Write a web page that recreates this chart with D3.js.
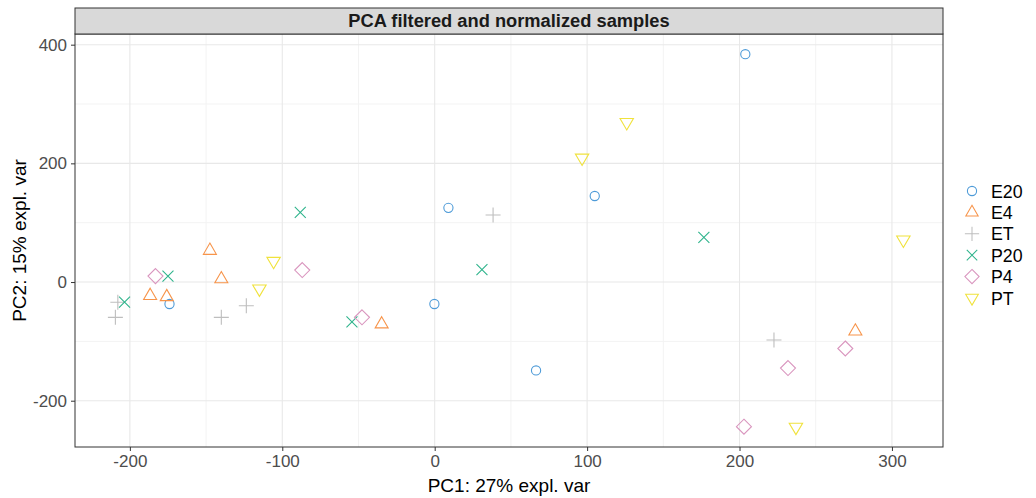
<!DOCTYPE html>
<html>
<head>
<meta charset="utf-8">
<script src="https://cdn.jsdelivr.net/npm/d3@7"></script>
<style>
  html, body { margin: 0; padding: 0; background: #ffffff; }
  svg { display: block; font-family: "Liberation Sans", Arial, sans-serif; }
</style>
</head>
<body>
<svg id="chart" width="1036" height="498"></svg>
<script>
// ---- data ----
const categories = ["E20", "E4", "ET", "P20", "P4", "PT"];
const pc1E20 = [203.8, 105, 9, -0.2, 66.5, -174];
const pc2E20 = [384, 145, 125, -37, -149, -37];
const pc1E4  = [-147.5, -140, -186.7, -175.8, -34.8, 276];
const pc2E4  = [53, 5, -23, -25, -71, -83];
const pc1ET  = [-207.9, -209.5, -140, -123.6, 38.3, 222.6];
const pc2ET  = [-34, -59.5, -59.5, -40, 113, -97.7];
const pc1P20 = [-203.5, -175, -88.2, -54.3, 31, 176.6];
const pc2P20 = [-34, 10, 117.4, -67, 21, 75.3];
const pc1P4  = [-183.2, -86.9, -47.7, 269.4, 231.8, 202.9];
const pc2P4  = [10, 20.2, -59.5, -112, -145, -243.8];
const pc1PT  = [-105.7, -115, 96.7, 126, 307.5, 237];
const pc2PT  = [35, -11.5, 209, 269, 71, -244.5];
const xTicks = [-200, -100, 0, 100, 200, 300];
const yTicks = [-200, 0, 200, 400];
const xMinor = [-150, -50, 50, 150, 250];
const yMinor = [-100, 100, 300];
const titleText = "PCA filtered and normalized samples";
const xTitle = "PC1: 27% expl. var";
const yTitle = "PC2: 15% expl. var";

const seriesX = [pc1E20, pc1E4, pc1ET, pc1P20, pc1P4, pc1PT];
const seriesY = [pc2E20, pc2E4, pc2ET, pc2P20, pc2P4, pc2PT];
const colors = ["#4E9BD8", "#F7944A", "#BEBEBE", "#2FB48C", "#D995BE", "#F0E23C"];

const points = [];
categories.forEach((c, i) => {
  seriesX[i].forEach((x, j) => points.push({ group: c, gi: i, x: x, y: seriesY[i][j] }));
});

// ---- layout ----
const svg = d3.select("#chart");
const L = 75, R = 943, T = 34, B = 447, stripTop = 8;

const x = d3.scaleLinear().domain([-236, 333.5]).range([L, R]);
const y = d3.scaleLinear().domain([-278, 418]).range([B, T]);

// panel background
svg.append("rect").attr("x", L).attr("y", T).attr("width", R - L).attr("height", B - T).attr("fill", "#fff");

// minor grid
const grid = svg.append("g");
grid.selectAll(".xm").data(xMinor).join("line")
  .attr("x1", d => x(d)).attr("x2", d => x(d)).attr("y1", T).attr("y2", B)
  .attr("stroke", "#F3F3F3").attr("stroke-width", 1);
grid.selectAll(".ym").data(yMinor).join("line")
  .attr("y1", d => y(d)).attr("y2", d => y(d)).attr("x1", L).attr("x2", R)
  .attr("stroke", "#F3F3F3").attr("stroke-width", 1);
// major grid
grid.selectAll(".xM").data(xTicks).join("line")
  .attr("x1", d => x(d)).attr("x2", d => x(d)).attr("y1", T).attr("y2", B)
  .attr("stroke", "#E8E8E8").attr("stroke-width", 1.1);
grid.selectAll(".yM").data(yTicks).join("line")
  .attr("y1", d => y(d)).attr("y2", d => y(d)).attr("x1", L).attr("x2", R)
  .attr("stroke", "#E8E8E8").attr("stroke-width", 1.1);

// shapes
function circlePath(r) {
  const p = d3.path();
  p.arc(0, 0, r, 0, 2 * Math.PI);
  p.closePath();
  return p.toString();
}
function shapePath(gi) {
  switch (gi) {
    case 0: return circlePath(4.6);
    case 1: return "M0,-7.5L6.5,3.75L-6.5,3.75Z";
    case 2: return "M-7.5,0L7.5,0M0,-7.5L0,7.5";
    case 3: return "M-5.5,-5.5L5.5,5.5M-5.5,5.5L5.5,-5.5";
    case 4: return "M0,-7.5L7.5,0L0,7.5L-7.5,0Z";
    case 5: return "M0,7.5L6.7,-3.9L-6.7,-3.9Z";
  }
}

// points
svg.append("g").selectAll("path").data(points).join("path")
  .attr("d", d => shapePath(d.gi))
  .attr("transform", d => `translate(${x(d.x)},${y(d.y)})`)
  .attr("fill", "none")
  .attr("stroke", d => colors[d.gi])
  .attr("stroke-width", 1.1);

// panel border
svg.append("rect").attr("x", L).attr("y", T).attr("width", R - L).attr("height", B - T)
  .attr("fill", "none").attr("stroke", "#333333").attr("stroke-width", 1);

// strip
svg.append("rect").attr("x", L).attr("y", stripTop).attr("width", R - L).attr("height", T - stripTop)
  .attr("fill", "#D9D9D9").attr("stroke", "#333333").attr("stroke-width", 1);
svg.append("text").attr("x", (L + R) / 2).attr("y", T - 7)
  .attr("text-anchor", "middle").attr("font-size", 18.3).attr("font-weight", "bold")
  .attr("fill", "#1A1A1A").text(titleText);

// axes
const xAxis = d3.axisBottom(x).tickValues(xTicks).tickSize(4).tickPadding(4).tickFormat(d3.format("d"));
const gx = svg.append("g").attr("transform", `translate(0,${B})`).call(xAxis);
gx.select(".domain").remove();
gx.selectAll(".tick line").attr("stroke", "#333333");
gx.selectAll(".tick text").attr("fill", "#4D4D4D").attr("font-size", 17)
  .attr("font-family", "Liberation Sans, Arial, sans-serif")
  .text(d => d < 0 ? "-" + Math.abs(d) : d);

const yAxis = d3.axisLeft(y).tickValues(yTicks).tickSize(4).tickPadding(4).tickFormat(d3.format("d"));
const gy = svg.append("g").attr("transform", `translate(${L},0)`).call(yAxis);
gy.select(".domain").remove();
gy.selectAll(".tick line").attr("stroke", "#333333");
gy.selectAll(".tick text").attr("fill", "#4D4D4D").attr("font-size", 17)
  .attr("font-family", "Liberation Sans, Arial, sans-serif")
  .text(d => d < 0 ? "-" + Math.abs(d) : d);

// axis titles
svg.append("text").attr("x", (L + R) / 2).attr("y", 492)
  .attr("text-anchor", "middle").attr("font-size", 19).attr("fill", "#000").text(xTitle);
svg.append("text").attr("transform", `translate(26,${(T + B) / 2}) rotate(-90)`)
  .attr("text-anchor", "middle").attr("font-size", 19).attr("fill", "#000").text(yTitle);

// legend
const legend = svg.append("g").attr("transform", "translate(972,191)");
const li = legend.selectAll("g").data(categories).join("g")
  .attr("transform", (d, i) => `translate(0,${i * 21.4})`);
li.append("path").attr("d", (d, i) => shapePath(i))
  .attr("transform", (d, i) => i === 0 ? "" : "scale(0.95)")
  .attr("fill", "none").attr("stroke", (d, i) => colors[i]).attr("stroke-width", 1.1);
li.append("text").attr("x", 19).attr("y", 6.5).attr("font-size", 17.8).attr("fill", "#000").text(d => d);
</script>
</body>
</html>
